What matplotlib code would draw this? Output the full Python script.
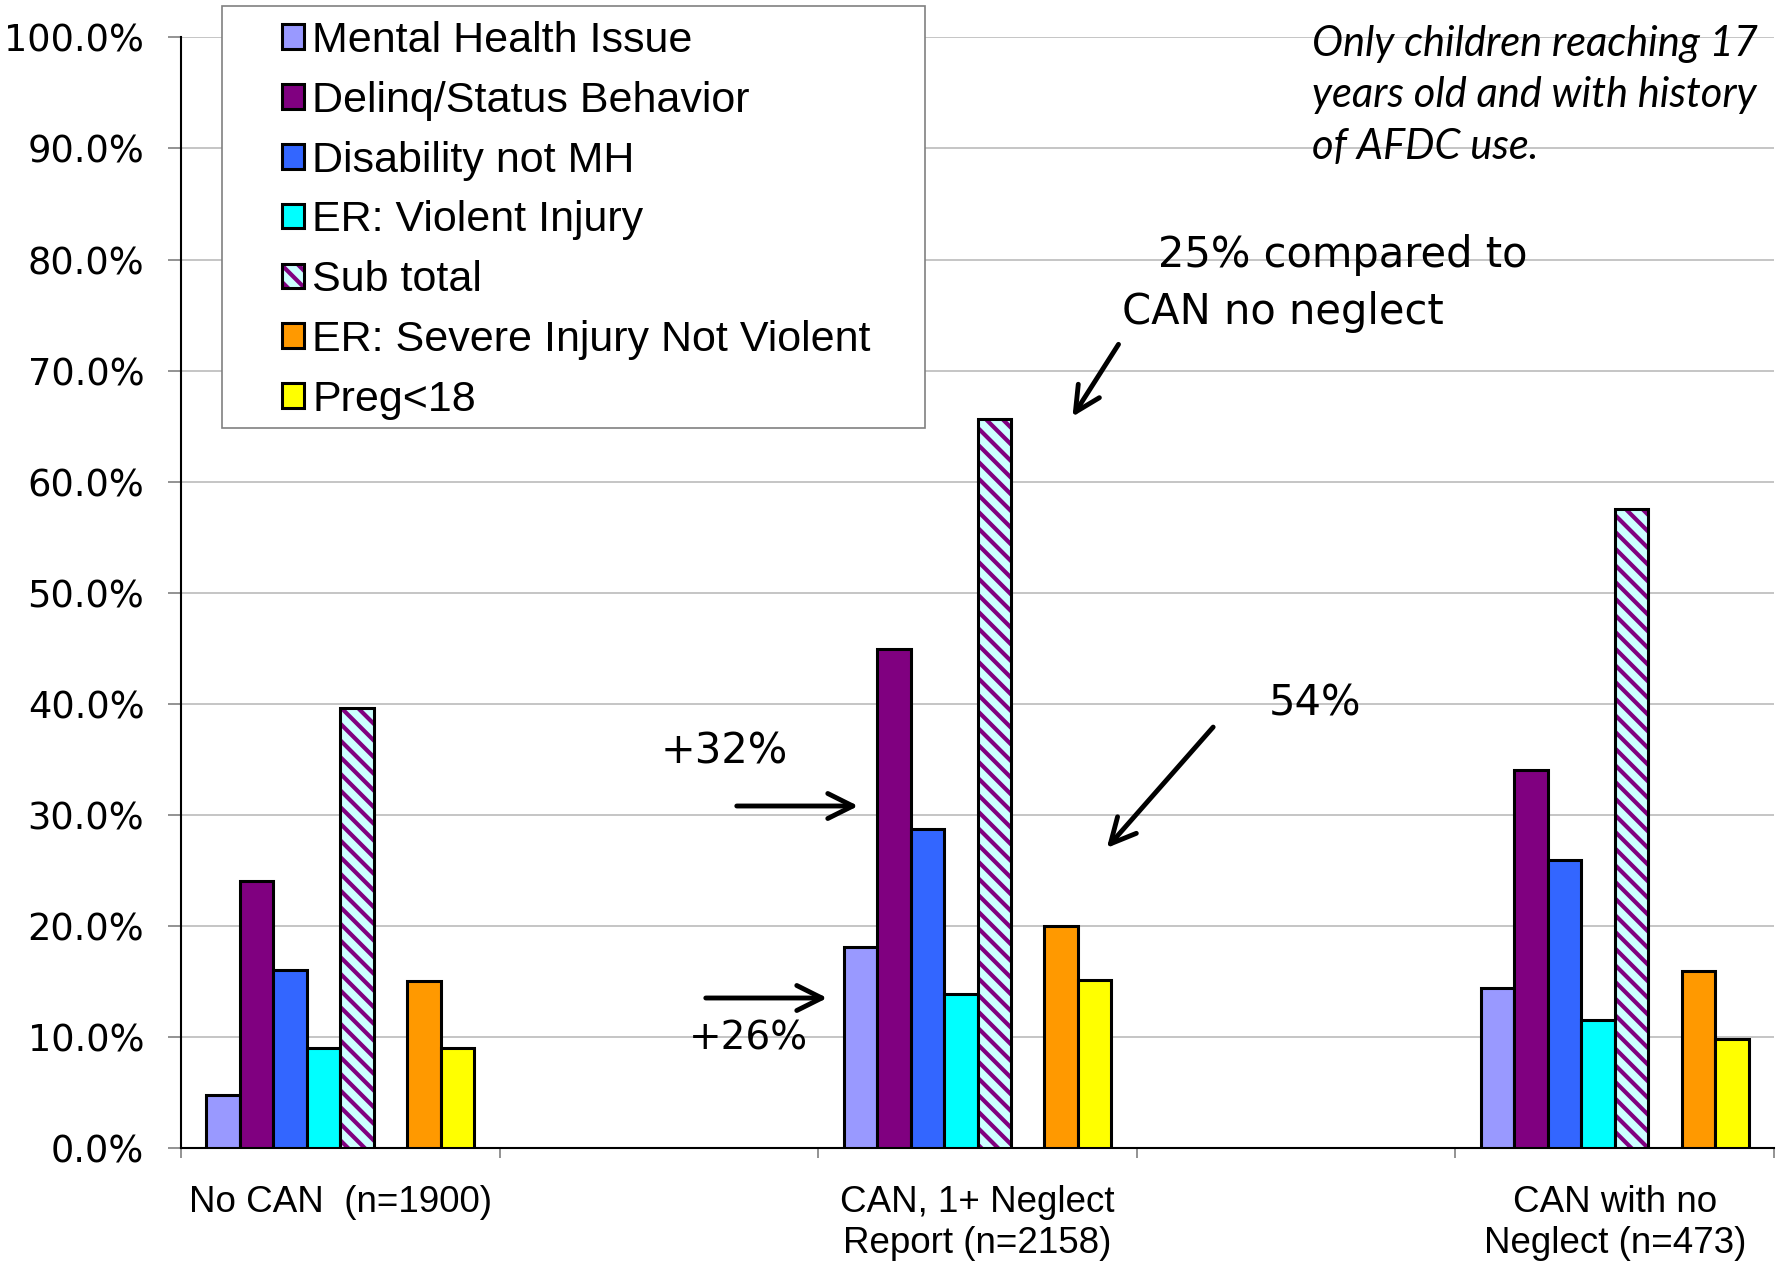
import numpy as np
import matplotlib
matplotlib.use('Agg')
import matplotlib.pyplot as plt
from matplotlib.patches import Rectangle, FancyArrowPatch
from matplotlib.ticker import FuncFormatter, FixedLocator

# groups (Excel chart uses blank categories between them)
categories = ['No CAN  (n=1900)', '', 'CAN, 1+ Neglect\nReport (n=2158)', '', 'CAN with no\nNeglect (n=473)']
group_pos = [0, 2, 4]

series = ['Mental Health Issue', 'Delinq/Status Behavior', 'Disability not MH',
          'ER: Violent Injury', 'Sub total', 'ER: Severe Injury Not Violent', 'Preg<18']
mental = [4.8, 18.1, 14.4]
delinq = [24.0, 44.9, 34.0]
disab = [16.0, 28.7, 25.9]
er_violent = [9.0, 13.9, 11.5]
sub_total = [39.6, 65.6, 57.5]
er_severe = [15.0, 20.0, 15.9]
preg = [9.0, 15.1, 9.8]

colors = ['#9999FF', '#800080', '#3366FF', '#00FFFF', '#CCFFFF', '#FF9900', '#FFFF00']
slots = [0, 1, 2, 3, 4, 6, 7]   # slot 5 left empty like the original

W, H = 1777, 1268
fig = plt.figure(figsize=(W / 100, H / 100), dpi=100)

def fx(px):
    return px / W

def fy(py):
    return 1 - py / H

ax = fig.add_axes([fx(181), fy(1148), (1774 - 181) / W, (1148 - 37.4) / H])

plt.rcParams['hatch.linewidth'] = 3.0
bw = 0.105
handles = []
for k, (name, vals) in enumerate(zip(series, [mental, delinq, disab, er_violent, sub_total, er_severe, preg])):
    x = np.array(group_pos) + (slots[k] - 3.5) * bw
    if name == 'Sub total':
        h1 = ax.bar(x, vals, bw, color=colors[k], edgecolor='#800080', hatch='\\\\',
                    linewidth=0, zorder=3, label=name)
        h2 = ax.bar(x, vals, bw, fill=False, edgecolor='black', linewidth=2.2, zorder=4)
        h = (h1, h2)
    else:
        h = ax.bar(x, vals, bw, color=colors[k], edgecolor='black', linewidth=2.2,
                   zorder=3, label=name)
    handles.append(h)

ax.set_xlim(-0.5, 4.5)
ax.set_ylim(0, 100)
ax.yaxis.set_major_locator(FixedLocator(np.arange(0, 101, 10)))
ax.yaxis.set_major_formatter(FuncFormatter(lambda v, p: f'{v:.1f}%'))
ax.grid(axis='y', color='#c0c0c0', linewidth=1.3, zorder=0)
ax.set_axisbelow(True)

ax.set_xticks(group_pos)
ax.set_xticklabels([categories[i] for i in group_pos], fontsize=26.5,
                   family=['Liberation Sans', 'DejaVu Sans'], linespacing=1.2)
ax.set_xticks(np.arange(-0.5, 4.6, 1), minor=True)
ax.tick_params(axis='x', which='major', length=0, pad=27)
ax.tick_params(axis='x', which='minor', length=7.2, width=1.2, color='#808080')
ax.tick_params(axis='y', length=9.4, width=1.2, color='#808080', pad=17, labelsize=26.5)

for s in ['top', 'right']:
    ax.spines[s].set_visible(False)
ax.spines['left'].set_linewidth(1.5)
ax.spines['bottom'].set_linewidth(1.5)

# legend box
box = Rectangle((fx(222), fy(428)), (925 - 222) / W, (428 - 5.7) / H, transform=fig.transFigure,
                facecolor='white', edgecolor='#808080', linewidth=1.2, zorder=5)
fig.add_artist(box)
leg = fig.legend(handles, series, loc='upper left', bbox_to_anchor=(fx(282), fy(21)),
                 frameon=False, borderpad=0, borderaxespad=0, handlelength=0.5, handleheight=0.5,
                 handletextpad=0.2, labelspacing=0.46,
                 prop={'family': 'Liberation Sans', 'size': 31})
leg.set_zorder(6)

# note
fig.text(fx(1312), fy(25), 'Only children reaching 17\nyears old and with history\nof AFDC use.',
         fontsize=30, style='italic', family='Lato', va='top', ha='left', linespacing=1.43)

# annotations
fig.text(fx(1158), fy(255), '25% compared to', fontsize=30, va='center', ha='left')
fig.text(fx(1122), fy(312), 'CAN no neglect', fontsize=30, va='center', ha='left')
fig.text(fx(1269), fy(703), '54%', fontsize=30, va='center', ha='left')
fig.text(fx(661), fy(751), '+32%', fontsize=30, va='center', ha='left')
fig.text(fx(689), fy(1038), '+26%', fontsize=28, va='center', ha='left')

arrows = [((1120, 342), (1071, 419)), ((1215, 725), (1105, 850)),
          ((734, 806), (861, 806)), ((703, 998), (830, 998))]
for (x0, y0), (x1, y1) in arrows:
    fig.add_artist(FancyArrowPatch(
        (fx(x0), fy(y0)), (fx(x1), fy(y1)), transform=fig.transFigure,
        arrowstyle='->,head_length=0.9,head_width=0.45', color='black', linewidth=3.5,
        mutation_scale=20, zorder=7))

fig.savefig('out.png', dpi=100)
